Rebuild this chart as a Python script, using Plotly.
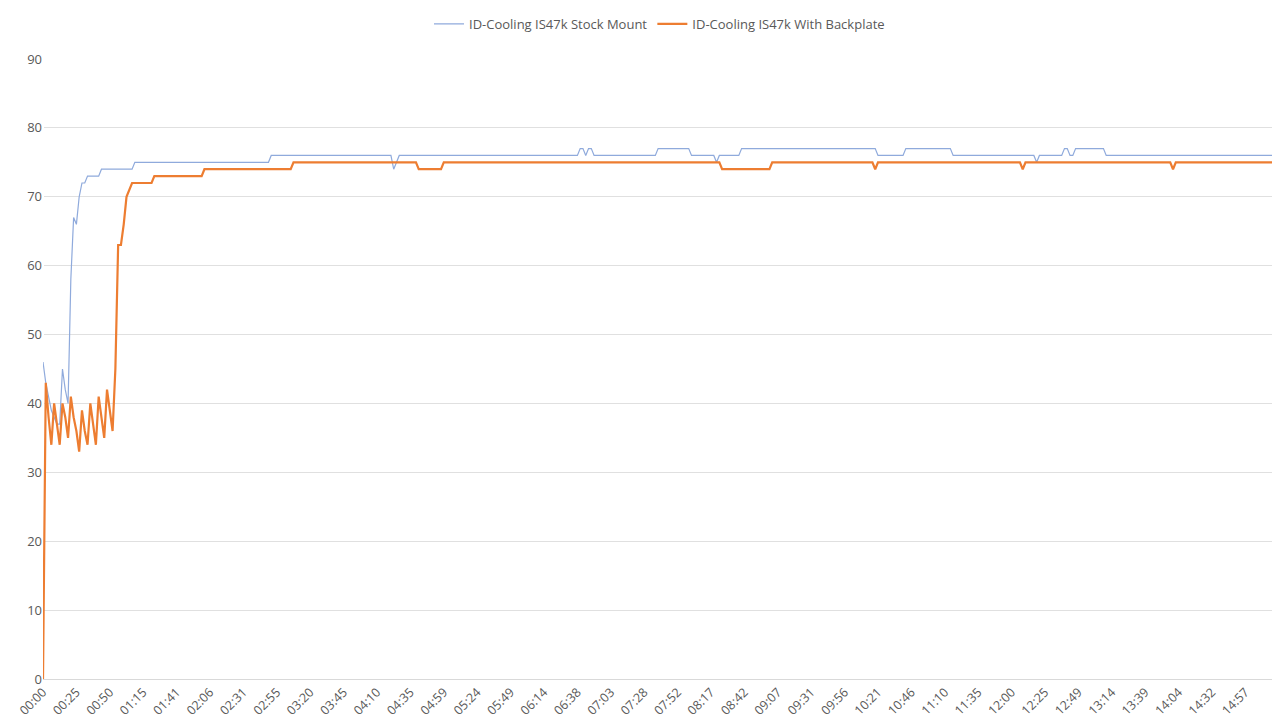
import plotly.graph_objects as go

tick_labels = ["00:00","00:25","00:50","01:15","01:41","02:06","02:31","02:55","03:20","03:45",
               "04:10","04:35","04:59","05:24","05:49","06:14","06:38","07:03","07:28","07:52",
               "08:17","08:42","09:07","09:31","09:56","10:21","10:46","11:10","11:35","12:00",
               "12:25","12:49","13:14","13:39","14:04","14:32","14:57"]
samples_per_label = 12

stock_start = [46,43,41,39,38,37,37,45,42,40,58,67,66,70,72,72,73,73,73,73,73]
stock_runs = [(74,12),(75,49),(76,44),(74,1),(75,1),(76,65),(77,2),(76,1),(77,2),(76,23),
              (77,12),(76,9),(75,1),(76,8),(77,49),(76,10),(77,17),(76,30),(75,1),(76,9),
              (77,2),(76,2),(77,11),(76,61)]

back_start = [0,43,38,34,40,37,34,40,38,35,41,38,36,33,39,36,34,40,37,34,41,38,35,42,39,36,45,63,63,66,70,71]
back_runs = [(72,8),(73,18),(74,32),(75,45),(74,9),(75,100),(74,18),(75,37),(74,1),(75,52),
             (74,1),(75,53),(74,1),(75,37)]

def expand(start, runs):
    out = list(start)
    for v, n in runs:
        out += [v]*n
    return out

stock = expand(stock_start, stock_runs)
back = expand(back_start, back_runs)

fig = go.Figure()
fig.add_trace(go.Scatter(x=list(range(len(stock))), y=stock, mode="lines",
                         name="ID-Cooling IS47k Stock Mount",
                         line=dict(color="#8FAADC", width=1.2)))
fig.add_trace(go.Scatter(x=list(range(len(back))), y=back, mode="lines",
                         name="ID-Cooling IS47k With Backplate",
                         line=dict(color="#ED7D31", width=2.2)))

fig.update_layout(
    width=1280, height=720, plot_bgcolor="white", paper_bgcolor="white",
    margin=dict(l=35, r=12, t=51, b=49, autoexpand=False),
    font=dict(family="Open Sans, Liberation Sans, sans-serif", size=13, color="#595959"),
    legend=dict(orientation="h", x=0.5, xanchor="center", yref="container",
                y=0.978, yanchor="middle", font=dict(size=13)),
    showlegend=True,
)
fig.update_xaxes(range=[0, len(back)-1], automargin=False,
                 tickvals=[i*samples_per_label for i in range(len(tick_labels))],
                 ticktext=tick_labels, tickangle=-45, showgrid=False,
                 showline=True, linecolor="#D9D9D9", ticks="", tickfont=dict(size=12.5))
fig.update_yaxes(range=[0, 90], dtick=10, showgrid=True, gridcolor="#E0E0E0", automargin=False,
                 zeroline=False, showline=False, ticks="", tickfont=dict(size=13))
fig.write_html("out.html")
